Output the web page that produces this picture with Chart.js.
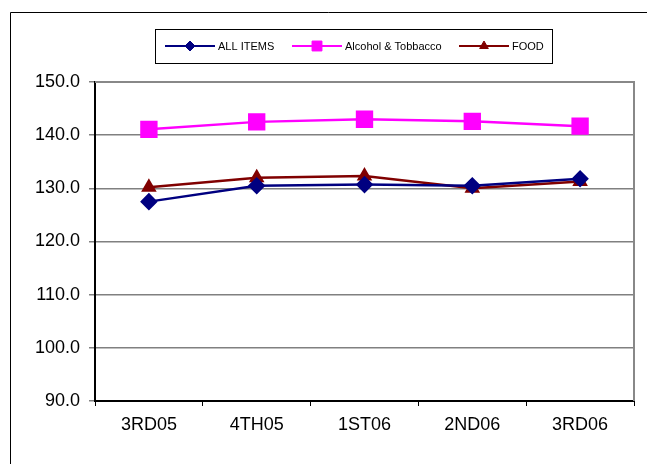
<!DOCTYPE html>
<html>
<head>
<meta charset="utf-8">
<script src="https://cdn.jsdelivr.net/npm/chart.js@4"></script>
<style>
  html, body { margin: 0; padding: 0; background: #fff; }
  #wrap { width: 647px; height: 464px; position: relative; }
</style>
</head>
<body>
<div id="wrap"><canvas id="chart"></canvas></div>
<script>
const quarters = ["3RD05", "4TH05", "1ST06", "2ND06", "3RD06"];
const allItems = [127.5, 130.5, 130.7, 130.5, 131.8];
const alcoholTobacco = [141.1, 142.5, 143.0, 142.6, 141.7];
const food = [130.2, 132.0, 132.3, 130.0, 131.3];
const yTicks = [90, 100, 110, 120, 130, 140, 150];

const FONT = "'Liberation Sans', Arial, sans-serif";

// outer frame, top/right plot border and the boxed legend
const framePlugin = {
  id: "frame",
  beforeDraw(chart) {
    const c = chart.ctx;
    c.save();
    c.strokeStyle = "#000";
    c.lineWidth = 1;
    c.beginPath();
    c.moveTo(10.5, 464);
    c.lineTo(10.5, 12.5);
    c.lineTo(647, 12.5);
    c.stroke();
    c.restore();
  },
  afterDraw(chart) {
    const c = chart.ctx;
    const a = chart.chartArea;
    c.save();
    c.strokeStyle = "#888";
    c.lineWidth = 2;
    c.beginPath();
    c.moveTo(a.left, a.top);
    c.lineTo(a.right, a.top);
    c.lineTo(a.right, a.bottom);
    c.stroke();

    // legend
    c.strokeStyle = "#000";
    c.lineWidth = 1;
    c.strokeRect(155.5, 29.5, 397, 34);
    const cy = 46;
    const starts = [165, 292, 459];
    c.font = "11px " + FONT;
    c.textBaseline = "middle";
    chart.data.datasets.forEach((ds, i) => {
      const x0 = starts[i];
      c.strokeStyle = ds.borderColor;
      c.lineWidth = 2;
      c.beginPath();
      c.moveTo(x0, cy);
      c.lineTo(x0 + 50, cy);
      c.stroke();
      c.fillStyle = ds.backgroundColor;
      c.strokeStyle = ds.borderColor;
      c.lineWidth = 1;
      Chart.helpers.drawPoint(c, {
        pointStyle: ds.pointStyle,
        radius: ds.legendRadius,
        borderWidth: 1
      }, x0 + 25, cy);
      c.fillStyle = "#000";
      c.fillText(ds.label, x0 + 53, cy + 1);
    });
    c.restore();
  }
};

new Chart(document.getElementById("chart"), {
  type: "line",
  data: {
    labels: quarters,
    datasets: [
      {
        label: "ALL ITEMS", data: allItems,
        borderColor: "#000080", backgroundColor: "#000080",
        borderWidth: 2.5, pointStyle: "rectRot", pointRadius: 7, legendRadius: 5,
        tension: 0
      },
      {
        label: "Alcohol & Tobbacco", data: alcoholTobacco,
        borderColor: "#FF00FF", backgroundColor: "#FF00FF",
        borderWidth: 2.5, pointStyle: "rect", pointRadius: 10.5, legendRadius: 7,
        tension: 0
      },
      {
        label: "FOOD", data: food,
        borderColor: "#800000", backgroundColor: "#800000",
        borderWidth: 2.5, pointStyle: "triangle", pointRadius: 6.5, legendRadius: 5,
        tension: 0
      }
    ]
  },
  options: {
    responsive: true,
    maintainAspectRatio: false,
    animation: false,
    devicePixelRatio: 1,
    layout: { padding: { top: 82, right: 9, left: 0, bottom: 0 } },
    plugins: { legend: { display: false }, tooltip: { enabled: false } },
    scales: {
      x: {
        offset: true,
        afterFit(s) { s.height = 63; },
        grid: { offset: true, drawOnChartArea: false, tickLength: 5, tickColor: "#000", tickWidth: 1 },
        border: { color: "#000", width: 2 },
        ticks: { color: "#000", font: { family: FONT, size: 18 }, padding: 8, maxRotation: 0 }
      },
      y: {
        min: 90, max: 150,
        afterFit(s) { s.width = 95; },
        afterBuildTicks(s) { s.ticks = yTicks.map(v => ({ value: v })); },
        grid: { color: "#808080", lineWidth: 1.5, tickLength: 6, tickColor: "#808080" },
        border: { color: "#000", width: 2 },
        ticks: {
          color: "#000", font: { family: FONT, size: 18 }, padding: 9,
          callback: v => v.toFixed(1)
        }
      }
    }
  },
  plugins: [framePlugin]
});
</script>
</body>
</html>
